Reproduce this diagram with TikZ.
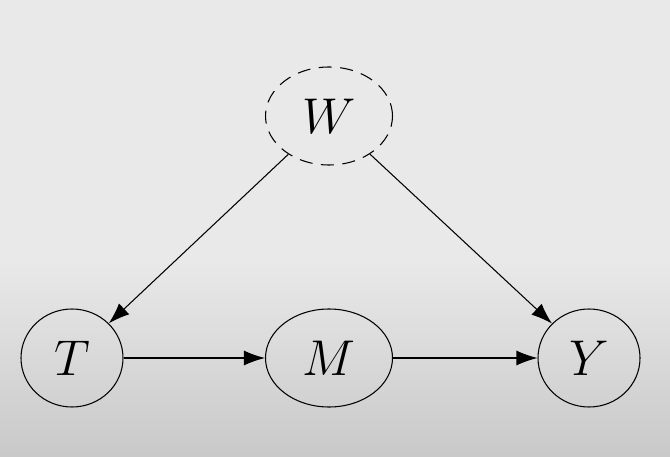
\documentclass[tikz,border=0pt]{standalone}
\usepackage{amsmath}
\usepackage{graphicx}
\usetikzlibrary{positioning, shapes.geometric}
\usetikzlibrary{arrows, arrows.meta}
\definecolor{bgtop}{HTML}{E9E9E9}
\definecolor{bgbot}{HTML}{C9C9C9}
\newcommand{\varlabel}[1]{\scalebox{1.15}{$#1$}}
\tikzset{
  var/.style={draw, line width=0.6pt, ellipse, inner sep=0pt, minimum width=2.04cm, minimum height=1.96cm, font=\Huge},
  widevar/.style={var, minimum width=2.54cm},
  hidden/.style={dash pattern=on 0.26cm off 0.17cm},
  edge/.style={-{Latex[length=0.42cm, width=0.3cm]}, line width=0.6pt}
}

\begin{document}
\begin{tikzpicture}
  \fill[bgtop] (0,0) rectangle (13.4,9.12);
  \shade[top color=bgtop, bottom color=bgbot] (0,0) rectangle (13.4,3.92);
  \useasboundingbox (0,0) rectangle (13.4,9.12);
  \node[var] (t) at (1.44,1.96) {\varlabel{T}};
  \node[widevar] (m) at (6.58,1.96) {\varlabel{M}};
  \node[var] (y) at (11.78,1.96) {\varlabel{Y}};
  \node[widevar, hidden] (w) at (6.58,6.8) {\varlabel{W}};
  \draw[edge] (w)--(t);
  \draw[edge] (w)--(y);
  \draw[edge] (t)--(m);
  \draw[edge] (m)--(y);
\end{tikzpicture}
\end{document}
